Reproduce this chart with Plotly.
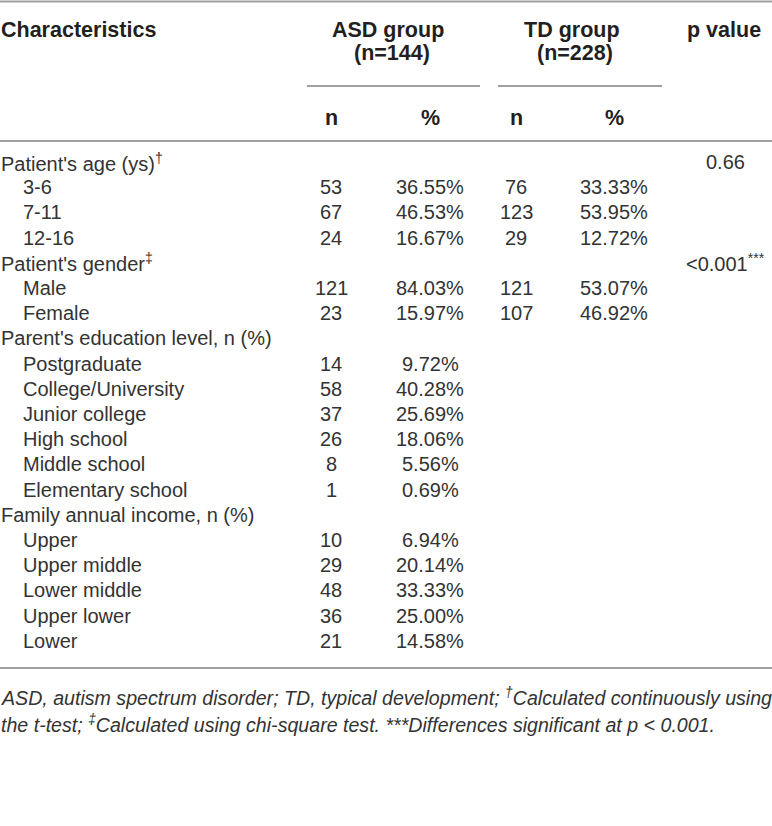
import plotly.graph_objects as go

# table content
labels = [
    "Patient's age (ys)<sup>†</sup>", "3-6", "7-11", "12-16",
    "Patient's gender<sup>‡</sup>", "Male", "Female",
    "Parent's education level, n (%)", "Postgraduate", "College/University",
    "Junior college", "High school", "Middle school", "Elementary school",
    "Family annual income, n (%)", "Upper", "Upper middle", "Lower middle",
    "Upper lower", "Lower",
]
indent = [0, 1, 1, 1, 0, 1, 1, 0, 1, 1, 1, 1, 1, 1, 0, 1, 1, 1, 1, 1]
asd_n = [None, 53, 67, 24, None, 121, 23, None, 14, 58, 37, 26, 8, 1,
         None, 10, 29, 48, 36, 21]
asd_pct = [None, 36.55, 46.53, 16.67, None, 84.03, 15.97, None, 9.72, 40.28,
           25.69, 18.06, 5.56, 0.69, None, 6.94, 20.14, 33.33, 25.00, 14.58]
td_n = [None, 76, 123, 29, None, 121, 107, None, None, None, None, None,
        None, None, None, None, None, None, None, None]
td_pct = [None, 33.33, 53.95, 12.72, None, 53.07, 46.92, None, None, None,
          None, None, None, None, None, None, None, None, None, None]
p_values = ["0.66", None, None, None, "<0.001<sup>***</sup>", None, None,
            None, None, None, None, None, None, None, None, None, None, None,
            None, None]

FONT = "Liberation Sans, Arial, sans-serif"
TXT = "#333333"
HEAD = "#231f20"
RULE = "#a0a0a0"
FS = 20
FS_HEAD = 21.5
FS_NOTE = 19.6

W, H = 772, 826
row0, step = 162, 25.2
col_x = {"asd_n": 331, "asd_pct": 430, "td_n": 516, "td_pct": 614, "p": 725}

fig = go.Figure()
ann = []


def add(x, y, text, anchor="center", bold=False, italic=False, size=FS,
        shift=0):
    color = TXT
    if bold:
        text = "<b>" + text + "</b>"
        color = HEAD
        size = FS_HEAD
    if italic:
        text = "<i>" + text + "</i>"
    ann.append(dict(x=x, y=y, xref="x", yref="y", text=text, showarrow=False,
                    xanchor=anchor, yanchor="middle", align="left",
                    xshift=shift,
                    font=dict(family=FONT, size=size, color=color)))


# header
add(0, 30, "Characteristics", "left", bold=True, shift=-1)
add(388, 30, "ASD group", bold=True)
add(392, 53, "(n=144)", bold=True)
add(572, 30, "TD group", bold=True)
add(575, 53, "(n=228)", bold=True)
add(724, 30, "p value", bold=True)
for key, t in [("asd_n", "n"), ("asd_pct", "%"), ("td_n", "n"), ("td_pct", "%")]:
    add(col_x[key], 118, t, bold=True)

# body
for i, lab in enumerate(labels):
    y = row0 + step * i
    add(22 * indent[i], y, lab, "left", shift=-1)
    if asd_n[i] is not None:
        add(col_x["asd_n"], y, str(asd_n[i]))
    if asd_pct[i] is not None:
        add(col_x["asd_pct"], y, "{:.2f}%".format(asd_pct[i]))
    if td_n[i] is not None:
        add(col_x["td_n"], y, str(td_n[i]))
    if td_pct[i] is not None:
        add(col_x["td_pct"], y, "{:.2f}%".format(td_pct[i]))
    if p_values[i] is not None:
        add(col_x["p"], y, p_values[i])

# footnote
add(0, 697, "ASD, autism spectrum disorder; TD, typical development; "
    "<sup>†</sup>Calculated continuously using", "left", italic=True,
    size=FS_NOTE, shift=-1)
add(0, 724, "the t-test; <sup>‡</sup>Calculated using chi-square test. "
    "***Differences significant at <i>p</i> < 0.001.", "left", italic=True,
    size=FS_NOTE, shift=-1)

rules = [(0, W, 1.5), (0, W, 141), (0, W, 668), (307, 480, 86), (498, 662, 86)]
shapes = [dict(type="line", xref="x", yref="y", x0=a, x1=b, y0=y, y1=y,
               line=dict(color=RULE, width=2)) for a, b, y in rules]

fig.update_layout(
    width=W, height=H,
    margin=dict(l=0, r=0, t=0, b=0),
    plot_bgcolor="#ffffff", paper_bgcolor="#ffffff",
    annotations=ann, shapes=shapes, showlegend=False,
)
fig.update_xaxes(range=[0, W], visible=False, fixedrange=True)
fig.update_yaxes(range=[H, 0], visible=False, fixedrange=True)
fig.write_html("out.html", config={"displayModeBar": False},
               post_script="document.body.style.margin='0';")
